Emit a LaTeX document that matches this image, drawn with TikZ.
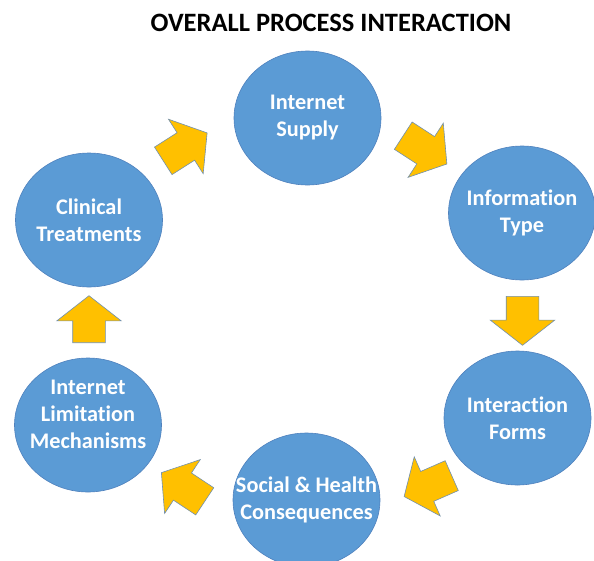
\documentclass[tikz,border=0pt]{standalone}
\usepackage{fontspec}
\setmainfont{Carlito}[Ligatures=NoCommon]
\usetikzlibrary{shapes.geometric,shapes.arrows}

\definecolor{stageblue}{HTML}{5B9BD5}
\definecolor{stageedge}{HTML}{4F81BD}
\definecolor{flowgold}{HTML}{FFC000}
\definecolor{flowedge}{HTML}{7090B0}

\begin{document}
\begin{tikzpicture}[
    x=1pt, y=-1pt, % pixel-like coordinates, y downwards
    stage/.style={ellipse, draw=stageedge, line width=0.6pt, fill=stageblue,
        minimum width=147pt, minimum height=134pt, inner sep=0pt},
    stagetext/.style={text=white, align=center, inner sep=0pt,
        font=\fontsize{22.3}{27}\selectfont\bfseries},
    flow/.style={single arrow, draw=flowedge, line width=0.6pt, fill=flowgold,
        inner xsep=0pt, inner ysep=16pt, single arrow head extend=16pt,
        single arrow tip angle=104, minimum height=52pt, anchor=tail}
]
\useasboundingbox (0,0) rectangle (594,560);
\clip (0,0) rectangle (594,560);

% Title
\node (title) at (331,23) {\fontsize{26.5}{30}\selectfont\bfseries OVERALL PROCESS INTERACTION};

% Stages of the cycle
\node (supply) [stage, label={[stagetext]center:Internet\\Supply}] at (307.5,118) {};
\node (info) [stage, label={[stagetext]center:Information\\Type}] at (522,213) {};
\node (forms) [stage, label={[stagetext]center:Interaction\\Forms}] at (517.5,418) {};
\node (social) [stage, label={[stagetext]center:Social \& Health\\Consequences}] at (306.5,500) {};
\node (limit) [stage, label={[stagetext, yshift=11pt]center:Internet\\Limitation\\Mechanisms}] at (88,425) {};
\node (clinic) [stage, label={[stagetext]center:Clinical\\Treatments}] at (89,220) {};

% Block arrows between stages
\node (f1) [flow, rotate=32.5] at (163,161) {};
\node (f2) [flow, rotate=-33] at (403,135.5) {};
\node (f3) [flow, rotate=-90, minimum height=49pt] at (522.5,296) {};
\node (f4) [flow, rotate=203.7] at (452,475.5) {};
\node (f5) [flow, rotate=146.5] at (205,501.5) {};
\node (f6) [flow, rotate=90, minimum height=47pt] at (89,343) {};

\end{tikzpicture}
\end{document}
